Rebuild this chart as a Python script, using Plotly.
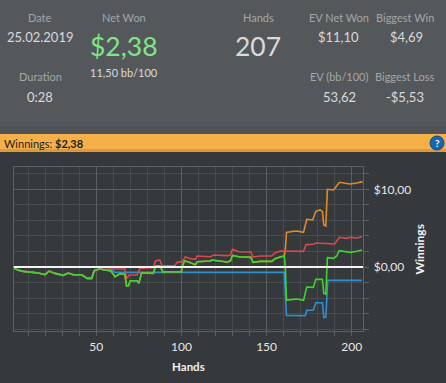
import plotly.graph_objects as go

W, H = 446, 383

# Shared stretch: all four lines overlap up to about hand 58
early_hands = [1.3, 4.3, 7.2, 11, 16, 19.9, 22.4, 25.8, 30.6, 33.6, 36.5, 41.4, 44.7, 47.3, 48.8, 52, 55]
early_values = [-0.09, -0.43, -0.56, -0.64, -0.77, -0.99, -0.52, -0.82, -1.07, -0.77, -0.99, -0.99, -1.46, -1.46, -0.47, -0.26, -0.34]

# Green continues; orange lies underneath it up to hand 160
green_mid_hands = [58.6, 61, 63.9, 66.8, 67.8, 68.8, 70, 74, 75, 76.6, 83.4, 85, 87.3, 89.3, 91, 97, 100, 100.4,
                   101.8, 104.3, 108.2, 109.2, 117, 118, 126.8, 128.7, 130, 133.6, 140.8, 142, 146.3, 153.1, 155,
                   158, 160.4]
green_mid_values = [-0.52, -1.24, -0.86, -0.94, -2.45, -2.45, -1.76, -1.76, -2.1, -0.77, -0.82, 0.17, 0.17, -0.69,
                    -0.6, -0.6, -0.6, 0.04, 0.77, 0.64, 0.3, 0.69, 0.77, 0.9, 0.64, 0.77, 1.5, 1.33, 1.24, 0.6,
                    0.73, 0.73, 1.07, 1.29, 1.42]
green_end_hands = [161, 161.7, 165.8, 167.8, 171.7, 173.6, 177.5, 178.9, 182.8, 183.6, 184.8, 185.7, 189.3, 191.2,
                   192.6, 197, 199, 203, 206]
green_end_values = [0.04, -4.25, -4.16, -4.12, -4.29, -2.58, -2.62, -1.59, -1.59, -3.39, -3.48, 1.2, 1.12, 1.42,
                    2.1, 2.02, 1.89, 2.02, 2.19]

red_late_hands = [58.6, 62, 63.9, 66.8, 67.8, 69.4, 74, 75.6, 83.4, 84.8, 87.3, 88.7, 96, 97.5, 100.6, 102.3, 104.3,
                  108.2, 109.2, 117, 119, 126.8, 128.7, 130, 133.6, 140.8, 142, 146.3, 153, 155, 158, 171.7, 173.2,
                  177.5, 178.9, 183.4, 190, 192.8, 197, 199, 203, 206]
red_late_values = [-0.26, -0.26, -0.17, -0.26, -1.46, -1.03, -1.03, -0.17, -0.09, 0.77, 0.9, 0.17, 0.17, 0.6, 0.69,
                   1.33, 1.12, 0.99, 1.42, 1.33, 1.55, 1.46, 1.55, 2.27, 1.97, 1.93, 1.29, 1.42, 1.42, 1.85, 2.06,
                   2.02, 2.88, 2.92, 3.09, 3.0, 2.96, 3.82, 3.69, 3.82, 3.73, 3.9]

orange_end_hands = [161, 161.7, 165.8, 167.8, 171.7, 173.6, 177.1, 178.9, 181.4, 182.8, 183.6, 184.8, 185.7, 189.3,
                    192.8, 197, 199, 203, 206.4]
orange_end_values = [2.2, 4.46, 4.6, 4.64, 4.46, 6.14, 6.05, 7.17, 7.34, 7.12, 5.41, 5.28, 10.0, 9.91, 10.9, 10.77,
                     10.69, 10.82, 10.99]

blue_late_hands = [58.6, 61, 160.4, 161.7, 172.7, 173.6, 177.5, 178.9, 182.8, 183.6, 184.8, 185.9, 206]
blue_late_values = [-0.3, -0.69, -0.69, -6.22, -6.27, -5.58, -5.54, -4.59, -4.59, -6.48, -6.48, -1.72, -1.72]

series = [
    ("EV", "#2f8fd0", early_hands + blue_late_hands, early_values + blue_late_values),
    ("All-in EV", "#e08a2e", early_hands + green_mid_hands + orange_end_hands,
     early_values + green_mid_values + orange_end_values),
    ("Showdown", "#d9484c", early_hands + red_late_hands, early_values + red_late_values),
    ("Net", "#3fd42e", early_hands + green_mid_hands + green_end_hands,
     early_values + green_mid_values + green_end_values),
]

x_labels = [50, 100, 150, 200]
y_label_values = [0, 10]
y_labels = ["$0,00", "$10,00"]

# Header texts: label, centre x, centre y, size, colour
GREY = "#a3a6a8"
LIGHT = "#d8dadb"
header = [
    ("Date", 40, 17, 11, GREY), ("25.02.2019", 40, 37, 13, LIGHT),
    ("Duration", 40, 76, 11, GREY), ("0:28", 40, 97, 13, LIGHT),
    ("Net Won", 124, 17, 11, GREY), ("$2,38", 124, 46, 26.5, "#7fe58a"),
    ("11,50 bb/100", 124, 72, 11, LIGHT),
    ("Hands", 258, 17, 11, GREY), ("207", 258, 46, 26.5, LIGHT),
    ("EV Net Won", 339, 17, 11, GREY), ("$11,10", 338, 37, 13, LIGHT),
    ("EV (bb/100)", 339, 76, 11, GREY), ("53,62", 339, 97, 13, LIGHT),
    ("Biggest Win", 405, 17, 11, GREY), ("$4,69", 406, 37, 13, LIGHT),
    ("Biggest Loss", 405, 76, 11, GREY), ("-$5,53", 405, 97, 13, LIGHT),
]

FONT = "Lato"
L, R, T, B = 13.5, 363.3, 167.3, 331.3


def px(x):
    return x / W


def py(y):
    return 1 - y / H


fig = go.Figure()
for name, color, xs, ys in series:
    fig.add_trace(go.Scatter(x=xs, y=ys, mode="lines", name=name, line=dict(color=color, width=1.6)))

shapes = [
    dict(type="rect", xref="paper", yref="paper", x0=0, x1=1, y0=py(134), y1=py(0),
         fillcolor="#55585b", line_width=0, layer="below"),
    dict(type="rect", xref="paper", yref="paper", x0=0, x1=1, y0=py(134), y1=py(126),
         fillcolor="#505356", line_width=0, layer="below"),
    dict(type="rect", xref="paper", yref="paper", x0=0, x1=1, y0=py(152), y1=py(134),
         fillcolor="#f5b04a", line_width=0, layer="below"),
    dict(type="rect", xref="paper", yref="paper", x0=0, x1=1, y0=py(152), y1=py(149),
         fillcolor="#d99a40", line_width=0, layer="below"),
    dict(type="rect", xref="paper", yref="paper", x0=0, x1=1, y0=0, y1=py(152),
         fillcolor="#36393c", line_width=0, layer="below"),
    dict(type="circle", xref="paper", yref="paper", x0=px(430), x1=px(444), y0=py(150), y1=py(136),
         fillcolor="#1467b3", line=dict(color="#0c4a86", width=1), layer="above"),
    dict(type="line", xref="x", yref="y", x0=1.4, x1=206.8, y0=0, y1=0,
         line=dict(color="#f4f4f4", width=2.2), layer="above"),
]

annotations = [
    dict(text=t, x=px(cx), y=py(cy), xref="paper", yref="paper", xanchor="center", yanchor="middle",
         showarrow=False, font=dict(family=FONT, size=s, color=c))
    for t, cx, cy, s, c in header
]
annotations += [
    dict(text="Winnings:", x=px(2), y=py(143), xref="paper", yref="paper", xanchor="left", yanchor="middle",
         showarrow=False, font=dict(family=FONT, size=11, color="#1d1d1d")),
    dict(text="<b>$2,38</b>", x=px(53), y=py(143), xref="paper", yref="paper", xanchor="left", yanchor="middle",
         showarrow=False, font=dict(family=FONT, size=11, color="#1d1d1d")),
    dict(text="<b>?</b>", x=px(437), y=py(143), xref="paper", yref="paper", xanchor="center", yanchor="middle",
         showarrow=False, font=dict(family=FONT, size=10, color="#ffffff")),
]

grid_major = "#5d6062"
grid_minor = "#484b4e"
fig.update_layout(
    width=W, height=H, margin=dict(l=0, r=0, t=0, b=0), showlegend=False,
    paper_bgcolor="#36393c", plot_bgcolor="#36393c",
    font=dict(family=FONT, color="#e6e6e6", size=12),
    shapes=shapes, annotations=annotations,
    xaxis=dict(
        domain=[px(L), px(R)], range=[1.4, 206.8], tickvals=x_labels, ticks="outside", ticklen=4,
        tickcolor=grid_major, gridcolor=grid_major, gridwidth=1, showline=True, linecolor=grid_major, mirror=True,
        zeroline=False, tickfont=dict(size=12, color="#e6e6e6"),
        minor=dict(dtick=10, tick0=0, showgrid=True, gridcolor=grid_minor, ticks="outside", ticklen=4,
                   tickcolor=grid_major),
        title=dict(text="<b>Hands</b>", standoff=10, font=dict(size=11.5, color="#f0f0f0")),
    ),
    yaxis=dict(
        domain=[py(B), py(T)], range=[-8.27, 12.83], side="right", tickvals=y_label_values, ticktext=y_labels,
        ticks="outside", ticklen=5, tickcolor=grid_major, gridcolor=grid_major, gridwidth=1, showline=True,
        linecolor=grid_major, mirror=True, zeroline=False, tickfont=dict(size=12, color="#e6e6e6"),
        ticklabelstandoff=2,
        minor=dict(dtick=2, tick0=0, showgrid=True, gridcolor=grid_minor, ticks="outside", ticklen=5,
                   tickcolor=grid_major),
        title=dict(text="<b>Winnings</b>", standoff=5, font=dict(size=12, color="#f0f0f0")),
    ),
)

fig.write_html("out.html", config={"displayModeBar": False},
               post_script="document.body.style.margin='0';document.body.style.overflow='hidden';")
